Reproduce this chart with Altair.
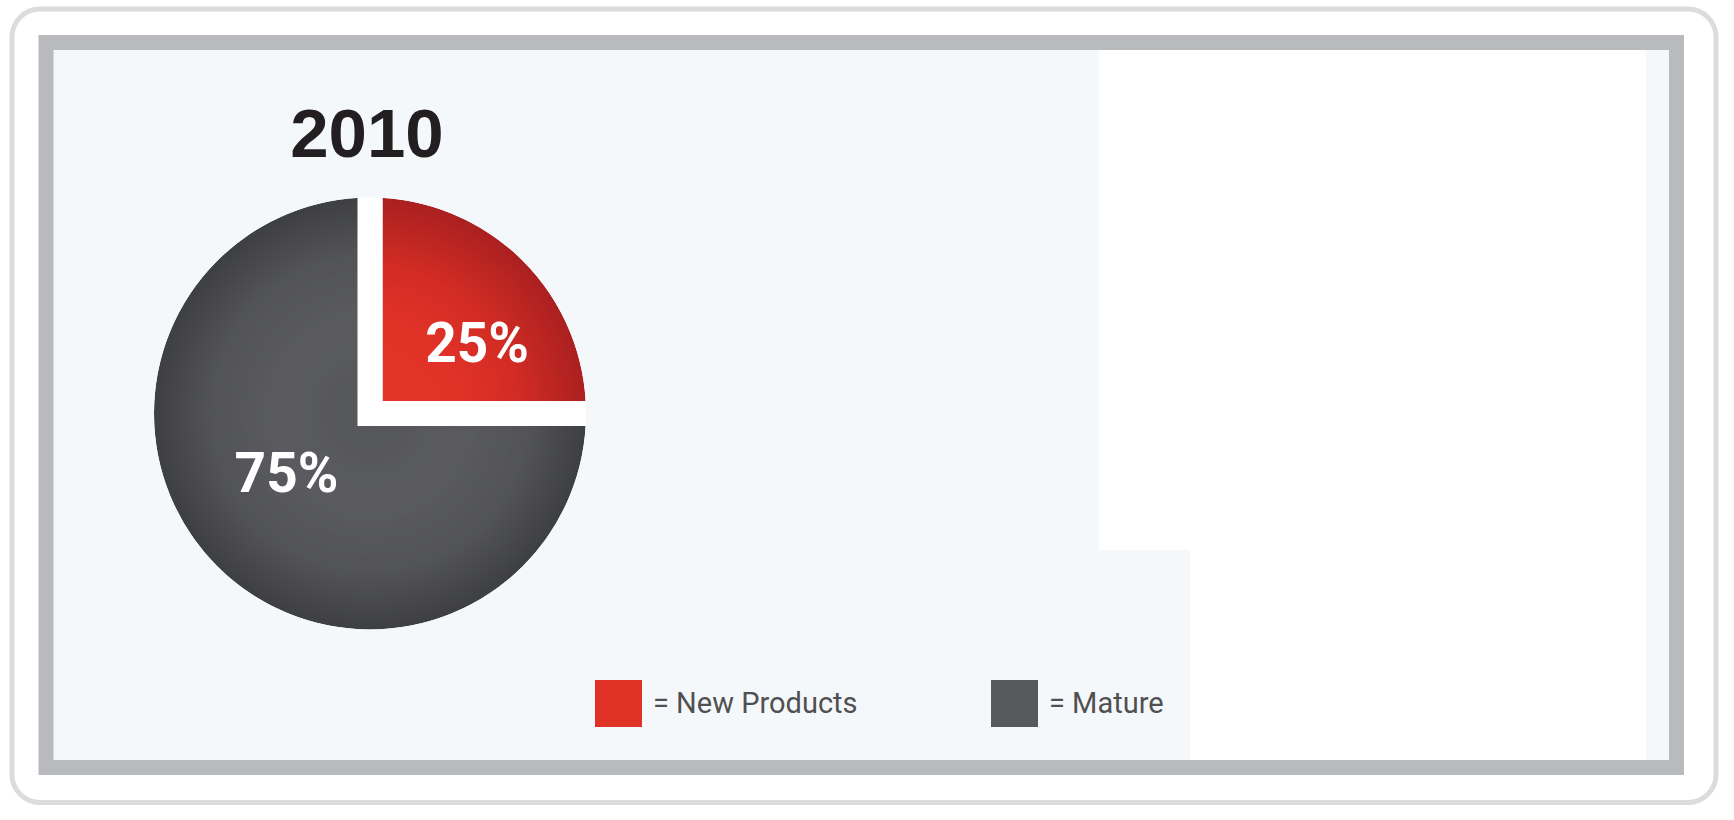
import math
import altair as alt
import pandas as pd

# ---- data ----
YEAR = ["2010"]
CATEGORIES = ["New Products", "Mature"]
SHARES = [25, 75]
LABELS = ["25%", "75%"]
LEGEND_COLORS = ["#e03226", "#58595b"]

TOTAL = sum(SHARES)

df = pd.DataFrame({
    "category": CATEGORIES,
    "share": SHARES,
    "label": LABELS,
    "order": list(range(len(CATEGORIES))),
})
year_df = pd.DataFrame({"year": YEAR})
deco_df = pd.DataFrame({"k": [0]})

# ---- layout ----
W, H = 1630.5, 725
CX, CY = 324, 371
R_VIS = 216
GAP = 25
R_OUT = R_VIS + GAP / 2
BG = "#f5f8fb"

theta_scale = alt.Scale(domain=[0, TOTAL])

base = alt.Chart(df).transform_window(
    end="sum(share)", frame=[None, 0], sort=[alt.SortField("order")]
).transform_calculate(
    start="datum.end - datum.share",
    mid="datum.end - datum.share / 2",
)

theta_enc = dict(
    theta=alt.Theta("start:Q", scale=theta_scale, stack=False),
    theta2="end:Q",
    x=alt.value(CX),
    y=alt.value(CY),
)

# flat arcs: carry the colour scale / legend (covered by the gradient arcs)
flat = base.mark_arc(outerRadius=R_VIS - 4).encode(
    color=alt.Color(
        "category:N",
        scale=alt.Scale(domain=CATEGORIES, range=LEGEND_COLORS),
        legend=alt.Legend(
            title=None,
            orient="none",
            direction="horizontal",
            legendX=549,
            legendY=637.5,
            symbolType="square",
            symbolSize=47 * 47,
            symbolStrokeWidth=0,
            symbolOpacity=1,
            labelFont="Roboto",
            labelFontSize=29,
            labelColor="#505052",
            labelOffset=11,
            labelLimit=400,
            columnPadding=133,
            padding=0,
            labelExpr="'= ' + datum.label",
        ),
    ),
    **theta_enc,
)

red_grad = alt.RadialGradient(
    gradient="radial",
    x1=0, y1=1, r1=0, x2=0, y2=1, r2=1,
    stops=[
        alt.GradientStop(offset=0, color="#e33529"),
        alt.GradientStop(offset=0.4, color="#e13227"),
        alt.GradientStop(offset=0.65, color="#d22c24"),
        alt.GradientStop(offset=0.945, color="#aa2020"),
        alt.GradientStop(offset=1, color="#a51e1e"),
    ],
)
gray_grad = alt.RadialGradient(
    gradient="radial",
    x1=0.5, y1=0.5, r1=0, x2=0.5, y2=0.5, r2=0.5,
    stops=[
        alt.GradientStop(offset=0, color="#55565a"),
        alt.GradientStop(offset=0.4, color="#5a5b5f"),
        alt.GradientStop(offset=0.7, color="#525357"),
        alt.GradientStop(offset=0.945, color="#3e3f43"),
        alt.GradientStop(offset=1, color="#3c3d41"),
    ],
)


def slice_layer(cat, grad):
    return base.transform_filter(alt.datum.category == cat).mark_arc(
        outerRadius=R_OUT, fill=grad, stroke="white", strokeWidth=GAP,
        strokeJoin="miter",
    ).encode(**theta_enc)


red_arc = slice_layer(CATEGORIES[0], red_grad)
gray_arc = slice_layer(CATEGORIES[1], gray_grad)

# one seamless ring in the card colour hides the white stroke outside the rim
rim_cover = alt.Chart(deco_df).mark_arc(
    theta=0, theta2=2 * math.pi,
    innerRadius=R_VIS, outerRadius=R_OUT + GAP / 2 + 5, fill=BG,
).encode(x=alt.value(CX), y=alt.value(CY))


def label_layer(cat, dx, dy):
    return base.transform_filter(alt.datum.category == cat).mark_text(
        font="Roboto", fontWeight="bold", fontSize=55, color="white",
        align="center", baseline="alphabetic", radius=116, dx=dx, dy=dy,
    ).encode(
        theta=alt.Theta("mid:Q", scale=theta_scale, stack=False),
        text="label:N",
        x=alt.value(CX),
        y=alt.value(CY),
    )


red_lbl = label_layer(CATEGORIES[0], 25, 31)
gray_lbl = label_layer(CATEGORIES[1], -1.5, -4)

year_txt = alt.Chart(year_df).mark_text(
    font="Liberation Sans", fontWeight="bold", fontSize=69, color="#231f20",
    align="center", baseline="alphabetic",
).encode(text="year:N", x=alt.value(321), y=alt.value(114.5))

# decorative pieces of the framed card
white_top = alt.Chart(deco_df).mark_rect(fill="white").encode(
    x=alt.value(1053), x2=alt.value(1600), y=alt.value(7.5), y2=alt.value(507.5)
)
white_bot = alt.Chart(deco_df).mark_rect(fill="white").encode(
    x=alt.value(1144), x2=alt.value(1600), y=alt.value(507.5), y2=alt.value(717.5)
)
outer = alt.Chart(deco_df).mark_rect(
    fill="transparent", stroke="#dcdcdc", strokeWidth=5, cornerRadius=28
).encode(
    x=alt.value(-34), x2=alt.value(1670), y=alt.value(-33.5), y2=alt.value(760)
)

chart = alt.layer(
    outer, white_top, white_bot, flat, red_arc, gray_arc, rim_cover,
    red_lbl, gray_lbl, year_txt
).properties(
    width=W,
    height=H,
    padding={"left": 46, "top": 42.5, "right": 57.5, "bottom": 52.5},
    autosize=alt.AutoSizeParams(type="none"),
    background="white",
).configure_view(
    fill=BG, stroke="#b9babe", strokeWidth=15
)

chart.save("out.html", embed_options={"renderer": "svg", "actions": False})
